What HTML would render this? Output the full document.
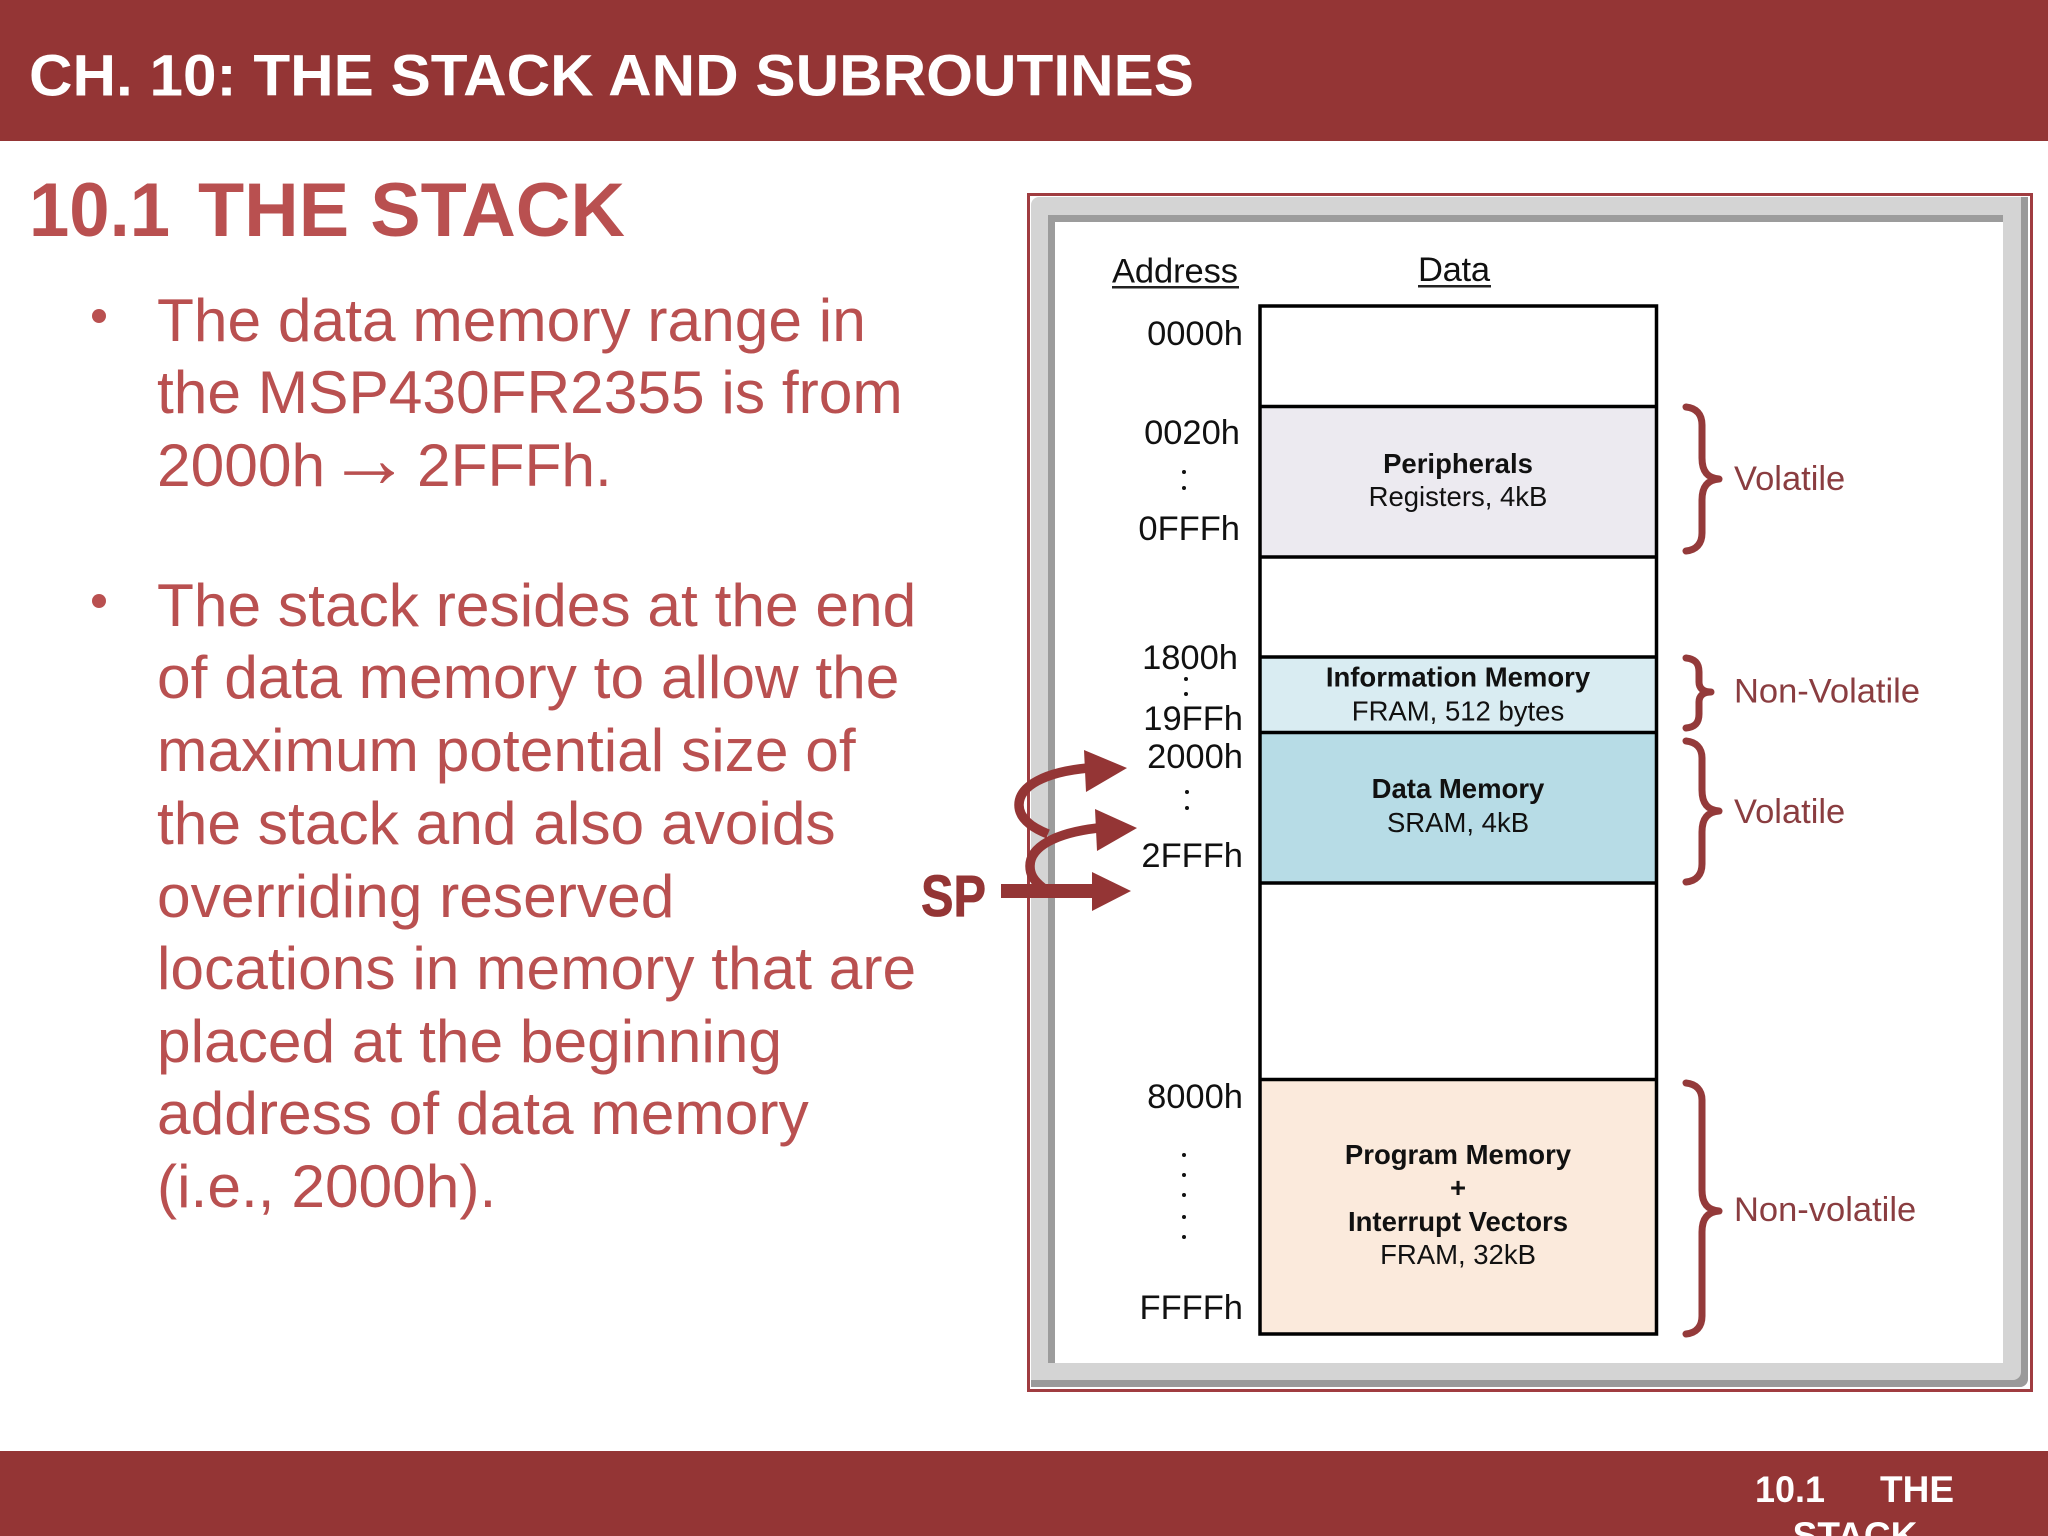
<!DOCTYPE html>
<html><head><meta charset="utf-8"><style>
html,body{margin:0;padding:0;background:#fff}
svg{display:block}
text{font-family:"Liberation Sans",sans-serif}
.a{font-size:34.5px;fill:#111}
.b{font-size:27.5px;fill:#111;text-anchor:middle}
.bb{font-weight:bold}
.v{font-size:34.5px;fill:#8a3d40}
.t{font-size:60.45px;fill:#b95050}
</style></head><body>
<svg width="2048" height="1536" viewBox="0 0 2048 1536" xmlns="http://www.w3.org/2000/svg">
<rect width="2048" height="1536" fill="#fff"/>
<rect width="2048" height="141" fill="#943535"/>
<text x="29" y="95.500" font-size="58.5" font-weight="bold" fill="#fff" textLength="1165" lengthAdjust="spacingAndGlyphs">CH. 10: THE STACK AND SUBROUTINES</text>
<rect y="1451" width="2048" height="85" fill="#943535"/>
<svg x="0" y="1451" width="2048" height="85" viewBox="0 1451 2048 85">
<text x="1755" y="1502" font-size="37" font-weight="bold" fill="#fff" textLength="70" lengthAdjust="spacingAndGlyphs">10.1</text>
<text x="1880" y="1502" font-size="37" font-weight="bold" fill="#fff">THE</text>
<text x="1855" y="1548" font-size="37" font-weight="bold" fill="#fff" text-anchor="middle">STACK</text>
</svg>
<text x="29" y="236" font-size="76" font-weight="bold" fill="#b95050" textLength="141" lengthAdjust="spacingAndGlyphs">10.1</text>
<text x="198" y="236" font-size="76" font-weight="bold" fill="#b95050" textLength="427" lengthAdjust="spacingAndGlyphs">THE STACK</text>
<circle cx="99" cy="316" r="7" fill="#b95050"/>
<circle cx="99" cy="601" r="7" fill="#b95050"/>
<text class="t" x="157" y="341">The data memory range in</text>
<text class="t" x="157" y="413">the MSP430FR2355 is from</text>
<text class="t" x="157" y="486">2000h</text>
<text x="327" y="487" font-size="84" fill="#b95050">→</text>
<text class="t" x="417" y="486">2FFFh.</text>
<text class="t" x="157" y="626">The stack resides at the end</text>
<text class="t" x="157" y="698">of data memory to allow the</text>
<text class="t" x="157" y="771">maximum potential size of</text>
<text class="t" x="157" y="844">the stack and also avoids</text>
<text class="t" x="157" y="917">overriding reserved</text>
<text class="t" x="157" y="989">locations in memory that are</text>
<text class="t" x="157" y="1062">placed at the beginning</text>
<text class="t" x="157" y="1134">address of data memory</text>
<text class="t" x="157" y="1207">(i.e., 2000h).</text>

<!-- frame -->
<rect x="1028.5" y="194.5" width="1003" height="1196" fill="#fff" stroke="#a03c40" stroke-width="3"/>
<rect x="1031" y="197" width="997" height="1190" rx="8" fill="#d4d4d4"/>
<path d="M2021 197h7v1182a8 8 0 0 1-8 8H1031v-7h982a8 8 0 0 0 8-8z" fill="#9a9a9a"/>
<rect x="1048" y="215" width="955" height="148" fill="#9c9c9c"/>
<rect x="1048" y="215" width="7" height="1148" fill="#9c9c9c"/>
<rect x="1055" y="222" width="948" height="1141" fill="#fff"/>

<!-- memory table -->
<rect x="1260" y="406" width="396" height="151" fill="#eceaf0"/>
<rect x="1260" y="657" width="396" height="75" fill="#d9ecf2"/>
<rect x="1260" y="732" width="396" height="151" fill="#b7dce6"/>
<rect x="1260" y="1079" width="396" height="255" fill="#fbeadc"/>
<g stroke="#000" stroke-width="3.5" fill="none">
<rect x="1260" y="306" width="396.500" height="1028"/>
<path d="M1260 406.500H1656.500M1260 557H1656.500M1260 657H1656.500M1260 732.500H1656.500M1260 883H1656.500M1260 1079.500H1656.500"/>
</g>

<text class="a" x="1112" y="282.500" textLength="126">Address</text>
<rect x="1112" y="286" width="127" height="2.500" fill="#222"/>
<text class="a" x="1418" y="281" textLength="72">Data</text>
<rect x="1418" y="285" width="73" height="2.500" fill="#222"/>
<g text-anchor="end">
<text class="a" x="1243" y="345" text-anchor="end">0000h</text>
<text class="a" x="1240" y="444" text-anchor="end">0020h</text>
<text class="a" x="1240" y="540" text-anchor="end">0FFFh</text>
<text class="a" x="1238" y="669" text-anchor="end">1800h</text>
<text class="a" x="1243" y="730" text-anchor="end">19FFh</text>
<text class="a" x="1243" y="768" text-anchor="end">2000h</text>
<text class="a" x="1243" y="867" text-anchor="end">2FFFh</text>
<text class="a" x="1243" y="1108" text-anchor="end">8000h</text>
<text class="a" x="1243" y="1319" text-anchor="end">FFFFh</text>
</g>
<g fill="#111">
<circle cx="1184" cy="472" r="2"/><circle cx="1184" cy="488" r="2"/>
<circle cx="1186" cy="679" r="2"/><circle cx="1186" cy="694" r="2"/>
<circle cx="1187" cy="792" r="2"/><circle cx="1187" cy="808" r="2"/>
<circle cx="1184" cy="1155" r="2"/><circle cx="1184" cy="1175" r="2"/><circle cx="1184" cy="1195" r="2"/><circle cx="1184" cy="1217" r="2"/><circle cx="1184" cy="1237" r="2"/>
</g>

<text class="b bb" x="1458" y="473">Peripherals</text>
<text class="b" x="1458" y="506">Registers, 4kB</text>
<text class="b bb" x="1458" y="686.500">Information Memory</text>
<text class="b" x="1458" y="720.500">FRAM, 512 bytes</text>
<text class="b bb" x="1458" y="798">Data Memory</text>
<text class="b" x="1458" y="832">SRAM, 4kB</text>
<text class="b bb" x="1458" y="1164">Program Memory</text>
<text class="b bb" x="1458" y="1197">+</text>
<text class="b bb" x="1458" y="1231">Interrupt Vectors</text>
<text class="b" x="1458" y="1264">FRAM, 32kB</text>

<!-- braces -->
<g fill="none" stroke="#943a3a" stroke-width="7" stroke-linecap="round" stroke-linejoin="round">
<path d="M1686 407C1696 408 1702 414 1702 425V458C1702 472 1708 478 1719 479C1708 480 1702 486 1702 500V533C1702 544 1696 550 1686 551"/>
<path d="M1686 658C1696 659 1699 664 1699 672V682C1699 688 1703 692 1711 692C1703 692 1699 696 1699 702V714C1699 722 1696 727 1686 728"/>
<path d="M1686 741C1696 742 1702 748 1702 758V790C1702 804 1708 810 1719 811C1708 812 1702 818 1702 832V864C1702 875 1696 881 1686 882"/>
<path d="M1686 1083C1696 1084 1702 1090 1702 1100V1190C1702 1204 1708 1210 1719 1211C1708 1212 1702 1218 1702 1232V1316C1702 1327 1696 1333 1686 1334"/>
</g>
<text class="v" x="1734" y="490">Volatile</text>
<text class="v" x="1734" y="702.500">Non-Volatile</text>
<text class="v" x="1734" y="823">Volatile</text>
<text class="v" x="1734" y="1221">Non-volatile</text>

<!-- SP arrows -->
<text x="921" y="916" font-size="58" font-weight="bold" fill="#943535" stroke="#943535" stroke-width="0.8" textLength="65" lengthAdjust="spacingAndGlyphs">SP</text>
<g fill="none" stroke="#943535" stroke-width="9.5">
<path d="M1048 834C1028 826 1019 816 1019 805C1019 786 1045 772 1088 768"/>
<path d="M1043 888C1033 880 1030 874 1030 866C1030 847 1055 833 1098 828"/>
</g>
<g fill="#943535">
<path d="M1084 750L1127 768L1086 792Z"/>
<path d="M1095 809L1137 828L1097 851Z"/>
<rect x="1001" y="884" width="93" height="14"/>
<path d="M1092 872L1131 891L1092 911Z"/>
</g>
</svg>
</body></html>
